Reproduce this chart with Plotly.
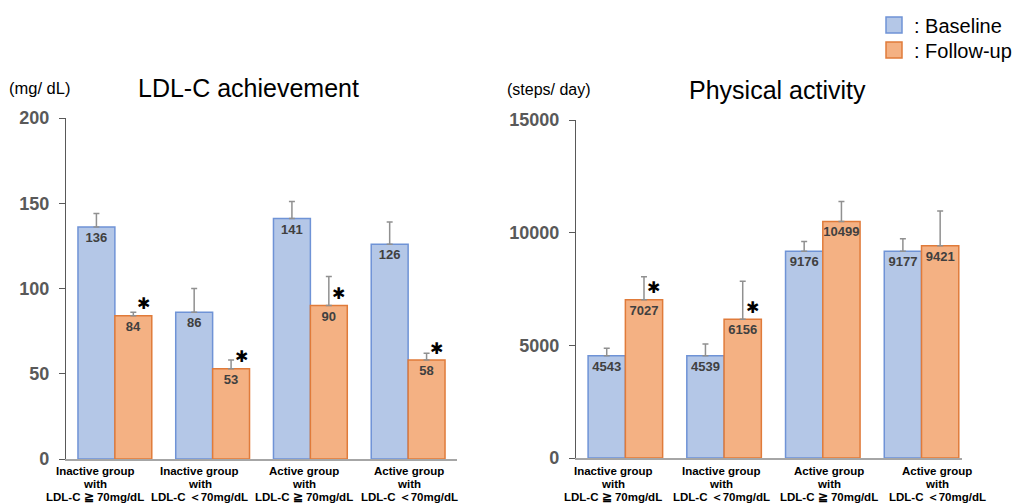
import plotly.graph_objects as go

# ---------------- data ----------------
cat_line1 = ["Inactive group", "Inactive group", "Active group", "Active group"]
cat_line2 = ["with", "with", "with", "with"]
cat_line3 = ["LDL-C ≧ 70mg/dL", "LDL-C ＜70mg/dL", "LDL-C ≧ 70mg/dL", "LDL-C ＜70mg/dL"]

ldl_baseline = [136, 86, 141, 126]
ldl_followup = [84, 53, 90, 58]
ldl_baseline_err = [8, 14, 10, 13]
ldl_followup_err = [2, 5, 17, 4]
ldl_significant = [True, True, True, True]

steps_baseline = [4543, 4539, 9176, 9177]
steps_followup = [7027, 6156, 10499, 9421]
steps_baseline_err = [324, 523, 437, 556]
steps_followup_err = [1016, 1691, 880, 1540]
steps_significant = [True, True, False, False]

ldl_ticks = [0, 50, 100, 150, 200]
steps_ticks = [0, 5000, 10000, 15000]

series_names = [": Baseline", ": Follow-up"]

# ---------------- style ----------------
W, H = 1017, 504
BLUE_FILL, BLUE_LINE = "#b4c7e7", "#6f93d6"
ORANGE_FILL, ORANGE_LINE = "#f4b183", "#e07b3a"
ERR_COLOR = "#909090"
LABEL_COLOR = "#404040"
TICK_COLOR = "#595959"
FONT = "Liberation Sans, Arial, sans-serif"

idx = list(range(len(cat_line1)))

fig = go.Figure()


def add_pair(base, fol, berr, ferr, xa, ya):
    for vals, errs, fill, line in ((base, berr, BLUE_FILL, BLUE_LINE),
                                   (fol, ferr, ORANGE_FILL, ORANGE_LINE)):
        fig.add_trace(go.Bar(
            x=idx, y=vals, xaxis=xa, yaxis=ya,
            marker=dict(color=fill, line=dict(color=line, width=1.5)),
            text=[str(v) for v in vals], textposition="inside", textangle=0,
            insidetextanchor="end", constraintext="none",
            textfont=dict(family=FONT, size=13, color=LABEL_COLOR, weight="bold"),
            error_y=dict(type="data", array=errs, arrayminus=[0] * len(errs),
                         symmetric=False, color=ERR_COLOR, thickness=1.5, width=3),
            showlegend=False, cliponaxis=False,
        ))


add_pair(ldl_baseline, ldl_followup, ldl_baseline_err, ldl_followup_err, "x", "y")
add_pair(steps_baseline, steps_followup, steps_baseline_err, steps_followup_err, "x2", "y2")

# legend entries (one legend per entry for exact spacing)
for name, fill, line, lg in ((series_names[0], BLUE_FILL, BLUE_LINE, "legend"),
                             (series_names[1], ORANGE_FILL, ORANGE_LINE, "legend2")):
    fig.add_trace(go.Scatter(
        x=[None], y=[None], mode="markers", name=name, legend=lg,
        marker=dict(symbol="square", size=16, color=fill, line=dict(color=line, width=1.5)),
        showlegend=True,
    ))

BARGAP = 0.245
half_bar = (1 - BARGAP) / 4  # centre offset of each bar in a group

# significance asterisks
for xa, ya, vals, sig in (("x", "y", ldl_followup, ldl_significant),
                          ("x2", "y2", steps_followup, steps_significant)):
    for i, v in enumerate(vals):
        if sig[i]:
            fig.add_annotation(x=i + half_bar, y=v, xref=xa, yref=ya, text="✱",
                               showarrow=False, xshift=10, yshift=12, borderpad=0,
                               font=dict(family="DejaVu Sans", size=16, color="black"))

# category labels (three lines each)
line_y = [(504 - 471) / H, (504 - 484) / H, (504 - 497) / H]
for start, step in ((95, 104.7), (613, 108)):
    for i in idx:
        for ly, txt in zip(line_y, (cat_line1[i], cat_line2[i], cat_line3[i])):
            fig.add_annotation(x=(start + i * step) / W, y=ly, xref="paper", yref="paper",
                               text=txt, showarrow=False, xanchor="center", yanchor="middle",
                               font=dict(family=FONT, size=11.5, color="black", weight="bold"))

# titles and units
for x, y, txt, size in ((248, 88, "LDL-C achievement", 25),
                        (777, 90, "Physical activity", 25),
                        (39, 88, "(mg/ dL)", 16.5),
                        (549, 89, "(steps/ day)", 16)):
    fig.add_annotation(x=x / W, y=1 - y / H, xref="paper", yref="paper", text=txt,
                       showarrow=False, xanchor="center", yanchor="middle",
                       font=dict(family=FONT, size=size, color="black"))

xcommon = dict(showline=True, linecolor="#a6a6a6", linewidth=2, showticklabels=False,
               ticks="", showgrid=False, zeroline=False, fixedrange=True)
ycommon = dict(showline=True, linecolor="#595959", linewidth=1.3, ticks="outside", ticklen=6,
               tickcolor="#595959", tickwidth=1.3, showgrid=False, zeroline=False,
               tickfont=dict(family=FONT, size=18, color=TICK_COLOR, weight="bold"),
               ticklabelstandoff=6, fixedrange=True)

legend_common = dict(xanchor="left", yanchor="middle",
                     font=dict(family=FONT, size=20, color="black"),
                     bgcolor="rgba(0,0,0,0)", itemsizing="trace")

fig.update_layout(
    width=W, height=H,
    margin=dict(l=0, r=0, t=0, b=0, autoexpand=False),
    paper_bgcolor="white", plot_bgcolor="white",
    barmode="group", bargap=BARGAP, bargroupgap=0,
    xaxis=dict(domain=[66 / W, 457 / W], range=[-0.5, 3.5], anchor="y", **xcommon),
    xaxis2=dict(domain=[576 / W, 962 / W], range=[-0.5, 3.41], anchor="y2", **xcommon),
    yaxis=dict(domain=[(H - 459) / H, (H - 118) / H], range=[0, 200], tickvals=ldl_ticks,
               ticktext=[str(t) for t in ldl_ticks], anchor="x", **ycommon),
    yaxis2=dict(domain=[(H - 458) / H, (H - 120) / H], range=[0, 15000], tickvals=steps_ticks,
                ticktext=[str(t) for t in steps_ticks], anchor="x2", **ycommon),
    legend=dict(x=874 / W, y=1 - 25 / H, **legend_common),
    legend2=dict(x=874 / W, y=1 - 50 / H, **legend_common),
    showlegend=True,
)

fig.write_html("out.html", config={"displayModeBar": False},
               post_script="document.body.style.margin='0';")
